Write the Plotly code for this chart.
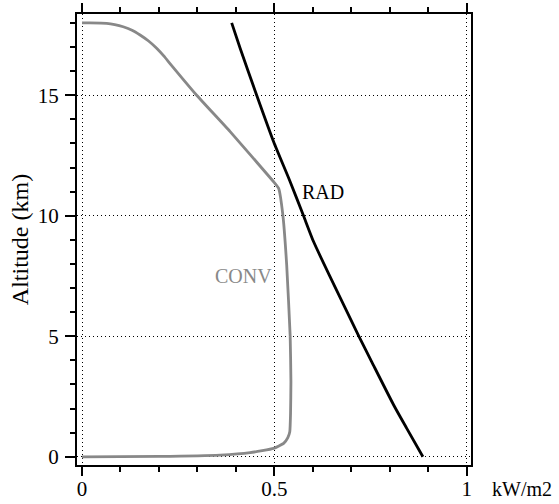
import plotly.graph_objects as go

# RAD profile (black)
rad_x = [0.389, 0.411, 0.454, 0.498, 0.541, 0.575, 0.602, 0.649, 0.719, 0.753, 0.810, 0.844, 0.886]
rad_y = [18.0, 16.95, 15.0, 13.07, 11.41, 10.03, 8.92, 7.33, 5.02, 3.94, 2.15, 1.18, 0.0]

# CONV profile (gray)
conv_x = [0.0, 0.02, 0.064, 0.085, 0.107, 0.13, 0.151, 0.173, 0.194, 0.213, 0.232, 0.298, 0.385,
          0.498, 0.511, 0.522, 0.532, 0.541, 0.543, 0.542, 0.540, 0.535, 0.524, 0.498, 0.437,
          0.359, 0.2, 0.0]
conv_y = [18.0, 18.0, 17.98, 17.93, 17.84, 17.7, 17.5, 17.25, 16.95, 16.62, 16.25, 15.0, 13.49,
          11.41, 11.14, 10.03, 7.95, 5.02, 3.11, 1.8, 1.04, 0.8, 0.56, 0.35, 0.17,
          0.07, 0.015, 0.0]

x_ticks = [0, 0.5, 1]
x_ticklabels = ["0", "0.5", "1"]
y_ticks = [0, 5, 10, 15]
y_ticklabels = ["0", "5", "10", "15"]

FONT = "Liberation Serif, DejaVu Serif, serif"

fig = go.Figure()
fig.add_trace(go.Scatter(x=conv_x, y=conv_y, mode="lines",
                         line=dict(color="#888888", width=2.8, shape="spline", smoothing=0.4),
                         showlegend=False))
fig.add_trace(go.Scatter(x=rad_x, y=rad_y, mode="lines",
                         line=dict(color="black", width=2.8, shape="spline", smoothing=0.6),
                         showlegend=False))

fig.add_annotation(x=0.5, y=7.5, xref="x", yref="y", text="CONV", showarrow=False,
                   xanchor="right", yanchor="middle",
                   font=dict(family=FONT, size=20, color="#888888"))
fig.add_annotation(x=0.567, y=11.0, xref="x", yref="y", text="RAD", showarrow=False,
                   xanchor="left", yanchor="middle",
                   font=dict(family=FONT, size=20, color="black"))
fig.add_annotation(x=1.049, y=-0.053, xref="paper", yref="paper", text="kW/m2", showarrow=False,
                   xanchor="left", yanchor="middle",
                   font=dict(family=FONT, size=20, color="black"))

fig.update_layout(
    width=559, height=504,
    margin=dict(l=77, r=88, t=14, b=39),
    paper_bgcolor="white", plot_bgcolor="white",
    font=dict(family=FONT, size=20, color="black"),
    xaxis=dict(
        range=[-0.013, 1.011],
        tickmode="array", tickvals=x_ticks, ticktext=x_ticklabels,
        ticks="outside", ticklen=9, tickwidth=2, tickcolor="black",
        showline=True, linewidth=2, linecolor="black", mirror="allticks",
        showgrid=True, gridcolor="black", gridwidth=1, griddash="1px,3px",
        zeroline=False, automargin=False, ticklabelstandoff=-5,
        minor=dict(tickmode="linear", tick0=0, dtick=0.1, ticks="outside", ticklen=5,
                   tickwidth=1.5, tickcolor="black", showgrid=False),
        tickfont=dict(family=FONT, size=21),
    ),
    yaxis=dict(
        range=[-0.34, 18.37],
        tickmode="array", tickvals=y_ticks, ticktext=y_ticklabels,
        ticks="outside", ticklen=10, tickwidth=2, tickcolor="black",
        showline=True, linewidth=2, linecolor="black", mirror=True,
        showgrid=True, gridcolor="black", gridwidth=1, griddash="1px,3px",
        zeroline=False, automargin=False, ticklabelstandoff=2,
        minor=dict(tickmode="linear", tick0=0, dtick=1, ticks="outside", ticklen=5,
                   tickwidth=1.5, tickcolor="black", showgrid=False),
        tickfont=dict(family=FONT, size=21),
        title=dict(text="Altitude (km)", font=dict(family=FONT, size=24), standoff=2),
    ),
)

fig.write_html("out.html", config={"displayModeBar": False},
               post_script="document.body.style.margin='0';")
